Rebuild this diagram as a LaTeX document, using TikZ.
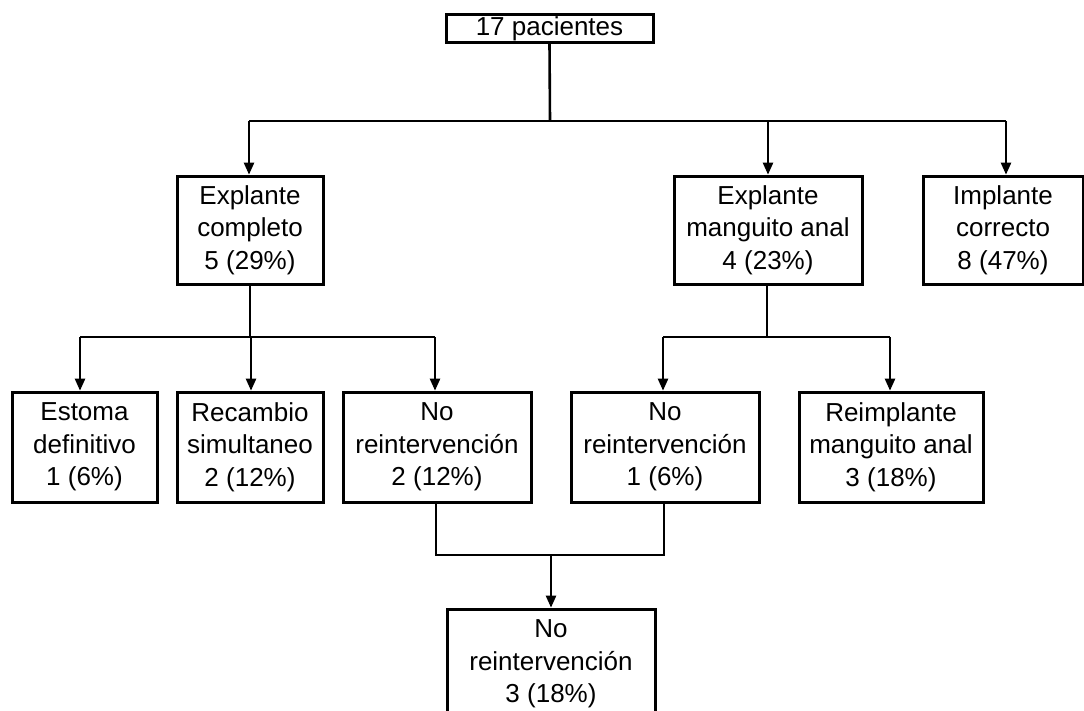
\documentclass[tikz,border=0pt]{standalone}
\usepackage{fontspec}
\setmainfont{Liberation Sans}
\usetikzlibrary{arrows.meta,calc}
\begin{document}
\begin{tikzpicture}[x=1pt,y=-1pt,
  box/.style={draw, line width=3pt, inner sep=0pt, align=center,
    font=\fontsize{26}{32.5}\selectfont, minimum height=108pt},
  conn/.style={line width=1.3pt},
  arr/.style={line width=1.3pt, -{Triangle[width=10.5pt,length=12pt]}},
]
\useasboundingbox (0,0) rectangle (1084,710);
\clip (0,0) rectangle (1084,710);
\fill[white] (0,0) rectangle (1084,710);

\node[box, minimum width=207pt, minimum height=28pt, text height=20pt, text depth=5pt] (top) at (549.5,28) {17 pacientes};

\node[box, minimum width=146pt] (ec) at (250,230) {Explante\\completo\\5 (29\%)};
\node[box, minimum width=188pt] (em) at (768,230) {Explante\\manguito anal\\4 (23\%)};
\node[box, minimum width=160pt] (ic) at (1003,230) {Implante\\correcto\\8 (47\%)};

\node[box, minimum width=145pt, minimum height=110pt] (ed) at (84.5,447) {Estoma\\definitivo\\1 (6\%)};
\node[box, minimum width=146pt, minimum height=110pt] (rs) at (250,447) {Recambio\\simultaneo\\2 (12\%)};
\node[box, minimum width=188pt, minimum height=110pt] (nr2) at (437,447) {No\\reintervención\\2 (12\%)};
\node[box, minimum width=188pt, minimum height=110pt] (nr1) at (665,447) {No\\reintervención\\1 (6\%)};
\node[box, minimum width=184pt, minimum height=110pt] (rma) at (891,447) {Reimplante\\manguito anal\\3 (18\%)};

\node[box, minimum width=208pt, minimum height=110pt] (nrb) at (551,664) {No\\reintervención\\3 (18\%)};

% arrow entry points on the boxes
\coordinate (ecin) at ($(ec.north)+(-1,0)$);
\coordinate (emin) at ($(em.north)+(0,0)$);
\coordinate (icin) at ($(ic.north)+(3,0)$);
\coordinate (edin) at ($(ed.north)+(-4.5,0)$);
\coordinate (rsin) at ($(rs.north)+(1,0)$);
\coordinate (nr2in) at ($(nr2.north)+(-2,0)$);
\coordinate (nr1in) at ($(nr1.north)+(-2,0)$);
\coordinate (rmain) at ($(rma.north)+(-1,0)$);
\coordinate (nr2out) at ($(nr2.south)+(-1,0)$);
\coordinate (nr1out) at ($(nr1.south)+(-1,0)$);
\coordinate (emout) at ($(em.south)+(-1,0)$);

% level 1
\coordinate (j1) at (550,121);
\draw[line width=2.6pt] (top.south) -- (j1);
\draw[conn] (ecin |- j1) -- (icin |- j1);
\draw[arr] (ecin |- j1) -- (ecin);
\draw[arr] (emin |- j1) -- (emin);
\draw[arr] (icin |- j1) -- (icin);

% level 2 left
\coordinate (j2) at (250,337);
\draw[conn] (ec.south) -- (ec.south |- j2);
\draw[conn] (edin |- j2) -- (nr2in |- j2);
\draw[arr] (edin |- j2) -- (edin);
\draw[arr] (rsin |- j2) -- (rsin);
\draw[arr] (nr2in |- j2) -- (nr2in);

% level 2 right
\draw[conn] (emout) -- (emout |- j2);
\draw[conn] (nr1in |- j2) -- (rmain |- j2);
\draw[arr] (nr1in |- j2) -- (nr1in);
\draw[arr] (rmain |- j2) -- (rmain);

% join
\coordinate (j3) at (550,555);
\draw[conn] (nr2out) -- (nr2out |- j3) -- (nr1out |- j3) -- (nr1out);
\draw[arr] (nrb.north |- j3) -- (nrb.north);
\end{tikzpicture}
\end{document}
